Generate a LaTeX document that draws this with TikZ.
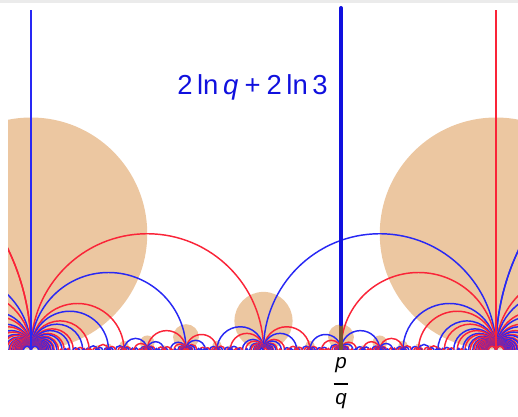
\documentclass[tikz,border=0pt]{standalone}
\usepackage{fontspec}
\setmainfont{Liberation Sans}
\usetikzlibrary{positioning}
\definecolor{horotan}{RGB}{236,199,161}
\definecolor{geored}{RGB}{250,36,56}
\definecolor{geoblue}{RGB}{40,40,244}
\definecolor{deepblue}{RGB}{16,16,222}
\definecolor{horobrown}{RGB}{122,86,50}
\tikzset{
  horoball/.style={fill=horotan},
  geo red/.style={draw=geored, line width=1.1pt},
  geo blue/.style={draw=geoblue, line width=1.1pt},
  axisline/.style={draw=gray!22, line width=1.4pt},
  length line/.style={draw=deepblue, line width=3pt, line cap=round},
  horo line/.style={draw=horobrown, line width=2.6pt},
  len label/.style={inner sep=0pt, text=deepblue, font=\fontsize{20.6}{24}\selectfont},
  frac label/.style={inner sep=0pt, font=\fontsize{15.4}{18}\selectfont\itshape},
  frac bar/.style={draw=black, line width=1.6pt}
}
% class of p/q in P^1(F_3): 0,1,2 for p/q mod 3, 3 for infinity
\newcommand{\cuspclass}[3]{%
  \pgfmathtruncatemacro#3{mod(#2,3)==0 ? 3 : mod(mod((#1)*(#2),3)+3,3)}}

\begin{document}
\begin{tikzpicture}[x=348.75pt, y=348.75pt]
  \useasboundingbox (-0.066667,-0.144086) rectangle (1.047312,0.752688);
  \fill[gray!16] (-0.066667,0.746237) rectangle (1.047312,0.752688);

  \begin{scope}
    \clip (-0.04946,0) rectangle (1.047312,0.76);
    % horoballs
    \foreach \b in {1,...,10}{
      \pgfmathtruncatemacro\alo{floor(-0.1*\b)}
      \pgfmathtruncatemacro\ahi{ceil(1.1*\b)}
      \pgfmathsetmacro\hr{1/(4*\b*\b)}
      \foreach \a in {\alo,...,\ahi}{
        \pgfmathtruncatemacro\g{gcd(abs(\a),\b)}
        \ifnum\g=1 \fill[horoball] ({\a/\b},\hr) circle[radius=\hr]; \fi
      }
    }
    \draw[axisline] (-0.04946,0) -- (1.047312,0);
    % Farey edges, coloured by their class mod 3
    \foreach \b in {1,...,15}{
      \pgfmathtruncatemacro\alo{floor(-0.3*\b)}
      \pgfmathtruncatemacro\ahi{ceil(1.3*\b)}
      \pgfmathtruncatemacro\dhi{min(60,floor(240/\b))}
      \foreach \a in {\alo,...,\ahi}{
        \pgfmathtruncatemacro\g{gcd(abs(\a),\b)}
        \ifnum\g=1
          \cuspclass{\a}{\b}{\la}
          \foreach \d in {\b,...,\dhi}{
            \foreach \s in {1,-1}{
              \edef\num{\the\numexpr\a*\d+\s\relax}
              \edef\rest{\the\numexpr\num-\b*(\num/\b)\relax}
              \ifnum\rest=0
                \edef\c{\the\numexpr\num/\b\relax}
                \cuspclass{\c}{\d}{\lb}
                \pgfmathtruncatemacro\kind{2*abs(floor(\la/2)-floor(\lb/2))+abs(mod(\la,2)-mod(\lb,2))}
                \pgfmathsetmacro\xa{min(\a/\b,\c/\d)}
                \pgfmathsetmacro\rad{1/(2*\b*\d)}
                \ifnum\kind=3 \draw[geo blue] (\xa,0) arc[start angle=180, end angle=0, radius=\rad]; \fi
                \ifnum\kind=2 \draw[geo red] (\xa,0) arc[start angle=180, end angle=0, radius=\rad]; \fi
              \fi
            }
          }
        \fi
      }
    }
  \end{scope}

  \coordinate (zero) at (0,0);
  \coordinate (zeroTop) at (0,0.731183);
  \coordinate (one) at (1,0);
  \coordinate (oneTop) at (1,0.731183);
  \draw[geo blue] (zero) -- (zeroTop);
  \draw[geo red] (one) -- (oneTop);

  \coordinate (pq) at (0.666667,0);
  \coordinate (ballTop) at (0.666667,0.055556);
  \coordinate (lineTop) at (0.666667,0.735484);
  \coordinate (lenBase) at (0.666667,0.548387);
  \draw[horo line] (pq) -- (ballTop);
  \draw[length line] (ballTop) -- (lineTop);

  \node[len label, left=9.75pt of lenBase, anchor=base east] (len) {2\,ln\,\textit{q}\:+\:2\,ln\,3};

  \node[frac label, below=5.25pt of pq] (fracP) {p};
  \draw[frac bar] ([xshift=-5.6pt, yshift=-8.25pt]fracP.south) -- ([xshift=5.6pt, yshift=-8.25pt]fracP.south);
  \node[frac label, below=15pt of fracP] (fracQ) {q};
\end{tikzpicture}
\end{document}
